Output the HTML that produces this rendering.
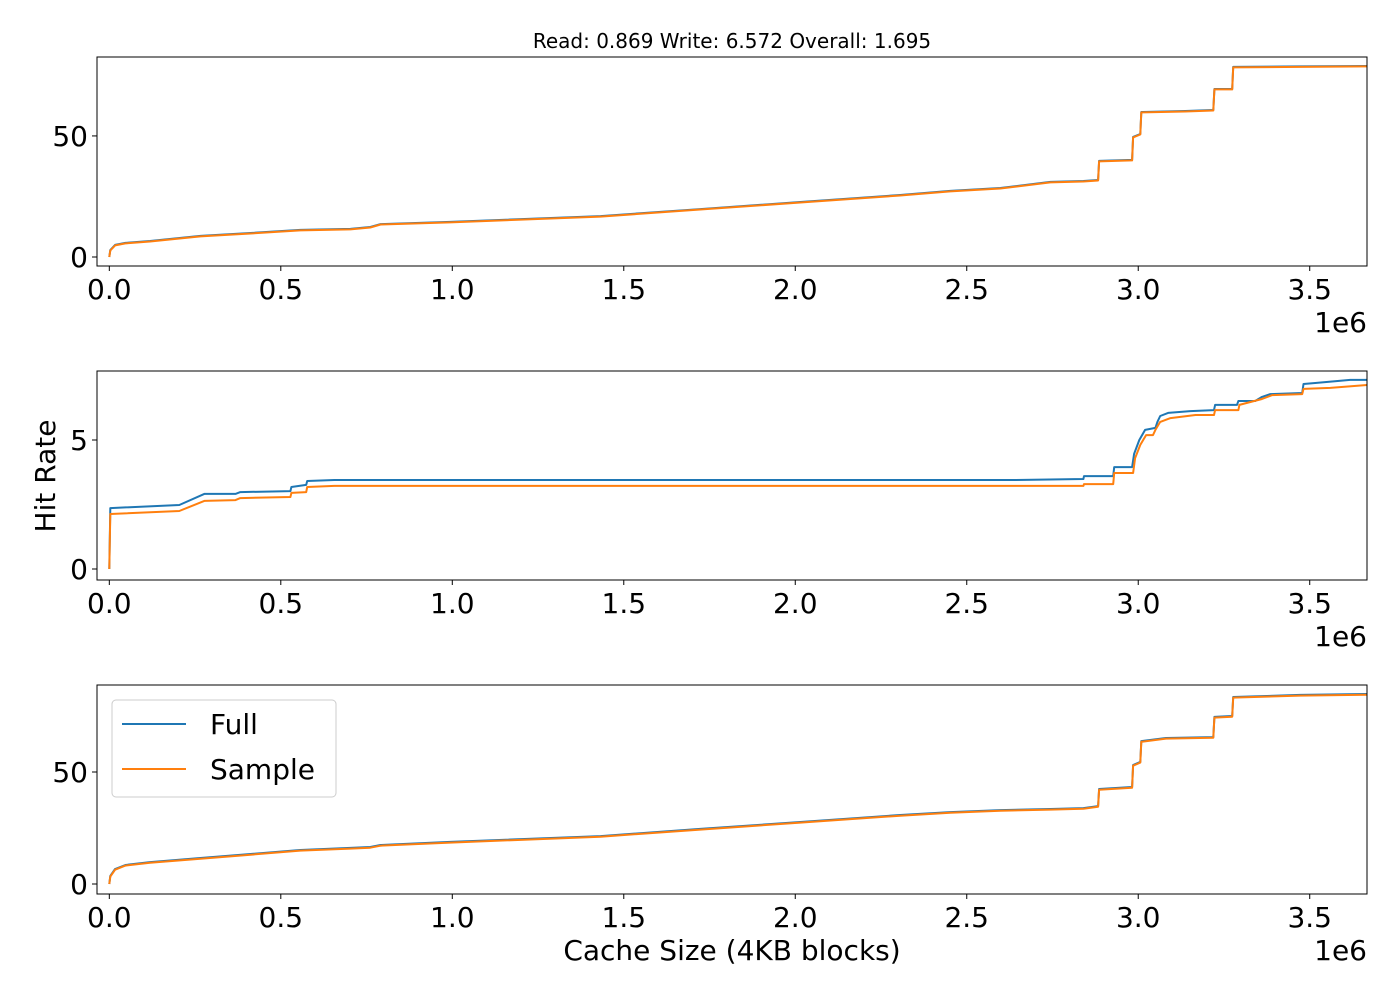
<!DOCTYPE html>
<html><head><meta charset="utf-8"><style>
body{margin:0;background:#fff}
svg{display:block;font-family:"DejaVu Sans","Liberation Sans",sans-serif}
</style></head><body>
<svg id="c" width="1400" height="1000"></svg>
<script>
const xTicks=[0,0.5,1.0,1.5,2.0,2.5,3.0,3.5];
const p1Ticks=[0,50];
const p2Ticks=[0,5];
const p3Ticks=[0,50];
const p1X=[0,0.003,0.017,0.047,0.119,0.266,0.412,0.557,0.703,0.761,0.791,0.994,1.432,1.723,2.015,2.306,2.452,2.598,2.744,2.840,2.883,2.886,2.982,2.985,3.006,3.009,3.137,3.219,3.222,3.274,3.277,3.472,3.667];
const p1Full=[0,2.9,5.0,5.8,6.6,8.7,9.9,11.2,11.6,12.4,13.6,14.5,16.9,19.8,22.7,25.6,27.3,28.5,31.0,31.4,31.8,39.7,40.1,49.6,50.8,59.9,60.3,60.7,69.4,69.4,78.5,78.7,78.9];
const p1Sample=[0,2.7,4.8,5.6,6.4,8.5,9.7,11.0,11.4,12.2,13.4,14.3,16.7,19.6,22.5,25.4,27.1,28.3,30.8,31.2,31.6,39.5,39.9,49.4,50.6,59.7,60.1,60.5,69.2,69.2,78.3,78.5,78.7];
const p2FullX=[0,0.003,0.204,0.277,0.368,0.382,0.528,0.531,0.574,0.577,0.656,2.641,2.840,2.842,2.927,2.930,2.982,2.988,3.003,3.020,3.050,3.056,3.064,3.087,3.152,3.221,3.224,3.288,3.292,3.341,3.361,3.385,3.478,3.482,3.516,3.618,3.667];
const p2Full=[0,2.36,2.48,2.91,2.91,2.98,3.02,3.18,3.26,3.41,3.45,3.45,3.49,3.60,3.60,3.95,3.95,4.46,5.00,5.39,5.47,5.70,5.93,6.05,6.12,6.16,6.36,6.36,6.51,6.51,6.67,6.78,6.82,7.17,7.21,7.33,7.33];
const p2SampleX=[0,0.003,0.204,0.277,0.368,0.382,0.528,0.531,0.574,0.577,0.656,2.840,2.842,2.927,2.930,2.985,2.991,3.006,3.023,3.043,3.050,3.064,3.094,3.167,3.221,3.224,3.292,3.295,3.361,3.391,3.478,3.482,3.560,3.667];
const p2Sample=[0,2.13,2.25,2.64,2.67,2.75,2.79,2.95,2.98,3.18,3.22,3.22,3.29,3.29,3.72,3.72,4.30,4.81,5.19,5.19,5.39,5.70,5.85,5.97,5.97,6.16,6.16,6.36,6.59,6.74,6.78,6.98,7.02,7.13];
const p3X=[0,0.003,0.017,0.047,0.119,0.266,0.412,0.557,0.703,0.761,0.791,0.994,1.432,1.723,2.015,2.306,2.452,2.598,2.744,2.840,2.883,2.886,2.982,2.985,3.006,3.009,3.081,3.219,3.222,3.274,3.277,3.472,3.667];
const p3Full=[0,3.6,6.7,8.5,9.8,11.6,13.4,15.2,16.1,16.5,17.4,18.8,21.4,24.6,27.7,30.8,32.1,33.0,33.5,33.9,34.8,42.4,43.3,53.1,54.5,63.8,65.2,65.6,74.6,75.0,83.5,84.4,84.8];
const p3Sample=[0,3.3,6.4,8.2,9.5,11.3,13.1,14.9,15.8,16.2,17.1,18.5,21.1,24.3,27.4,30.5,31.8,32.7,33.2,33.6,34.5,42.1,43.0,52.8,54.2,63.5,64.9,65.3,74.3,74.7,83.2,84.1,84.5];

const NS="http://www.w3.org/2000/svg";
const svg=document.getElementById('c');
function mk(tag,attrs,parent,text){const e=document.createElementNS(NS,tag);for(const k in attrs)e.setAttribute(k,attrs[k]);if(text!==undefined)e.textContent=text;(parent||svg).appendChild(e);return e;}
const L=97,R=1367,X0=-0.0359,X1=3.667;
const sx=v=>L+(v-X0)/(X1-X0)*(R-L);
const panels=[
 {top:57,bot:266,y0:-3.72,y1:82.6,ticks:p1Ticks,name:'top-panel',series:[[p1X,p1Full,'#1f77b4','full'],[p1X,p1Sample,'#ff7f0e','sample']]},
 {top:371,bot:580,y0:-0.426,y1:7.674,ticks:p2Ticks,name:'middle-panel',series:[[p2FullX,p2Full,'#1f77b4','full'],[p2SampleX,p2Sample,'#ff7f0e','sample']]},
 {top:685,bot:894,y0:-4.46,y1:88.84,ticks:p3Ticks,name:'bottom-panel',series:[[p3X,p3Full,'#1f77b4','full'],[p3X,p3Sample,'#ff7f0e','sample']]}
];
panels.forEach(p=>{
 const g=mk('g',{});
 
 
 const sy=v=>p.bot-(v-p.y0)/(p.y1-p.y0)*(p.bot-p.top);
 p.series.forEach(s=>{
  const d=s[0].map((x,i)=>(i?'L':'M')+sx(x).toFixed(1)+','+sy(s[1][i]).toFixed(1)).join('');
  const path=mk('path',{d:d,fill:'none',stroke:s[2],'stroke-width':2,'stroke-linejoin':'round'},g);
  
  
 });
 const frame=mk('rect',{x:L,y:p.top,width:R-L,height:p.bot-p.top,fill:'none',stroke:'#000','stroke-width':1},g);
 
 
 xTicks.forEach(t=>{
  const x=sx(t);
  mk('line',{x1:x,x2:x,y1:p.bot,y2:p.bot+5,stroke:'#000'},g);
  const tl=mk('text',{x:x,y:p.bot+33,'font-size':28,'text-anchor':'middle'},g,t.toFixed(1));
  
  
 });
 p.ticks.forEach(t=>{
  const y=sy(t);
  mk('line',{x1:L-5,x2:L,y1:y,y2:y,stroke:'#000'},g);
  const tl=mk('text',{x:L-9,y:y+10,'font-size':28,'text-anchor':'end'},g,String(t));
  
  
 });
 const off=mk('text',{x:R,y:p.bot+66,'font-size':28,'text-anchor':'end'},g,'1e6');
 
 
});
const title=mk('text',{x:732,y:48,'font-size':20,'text-anchor':'middle'},svg,'Read: 0.869 Write: 6.572 Overall: 1.695');


const yl=mk('text',{x:0,y:0,'font-size':28,'text-anchor':'middle',transform:'translate(55,476) rotate(-90)'},svg,'Hit Rate');


const xl=mk('text',{x:732,y:960,'font-size':28,'text-anchor':'middle'},svg,'Cache Size (4KB blocks)');


const lg=mk('g',{});


mk('rect',{x:112,y:700,width:224,height:97,rx:4,fill:'#fff','fill-opacity':0.8,stroke:'#ccc'},lg);
[['Full','#1f77b4',724],['Sample','#ff7f0e',769]].forEach(e=>{
 const ge=mk('g',{},lg);
 
 
 mk('line',{x1:122,x2:186,y1:e[2],y2:e[2],stroke:e[1],'stroke-width':2},ge);
 mk('text',{x:210,y:e[2]+10,'font-size':28},ge,e[0]);
});
</script>
</body></html>
